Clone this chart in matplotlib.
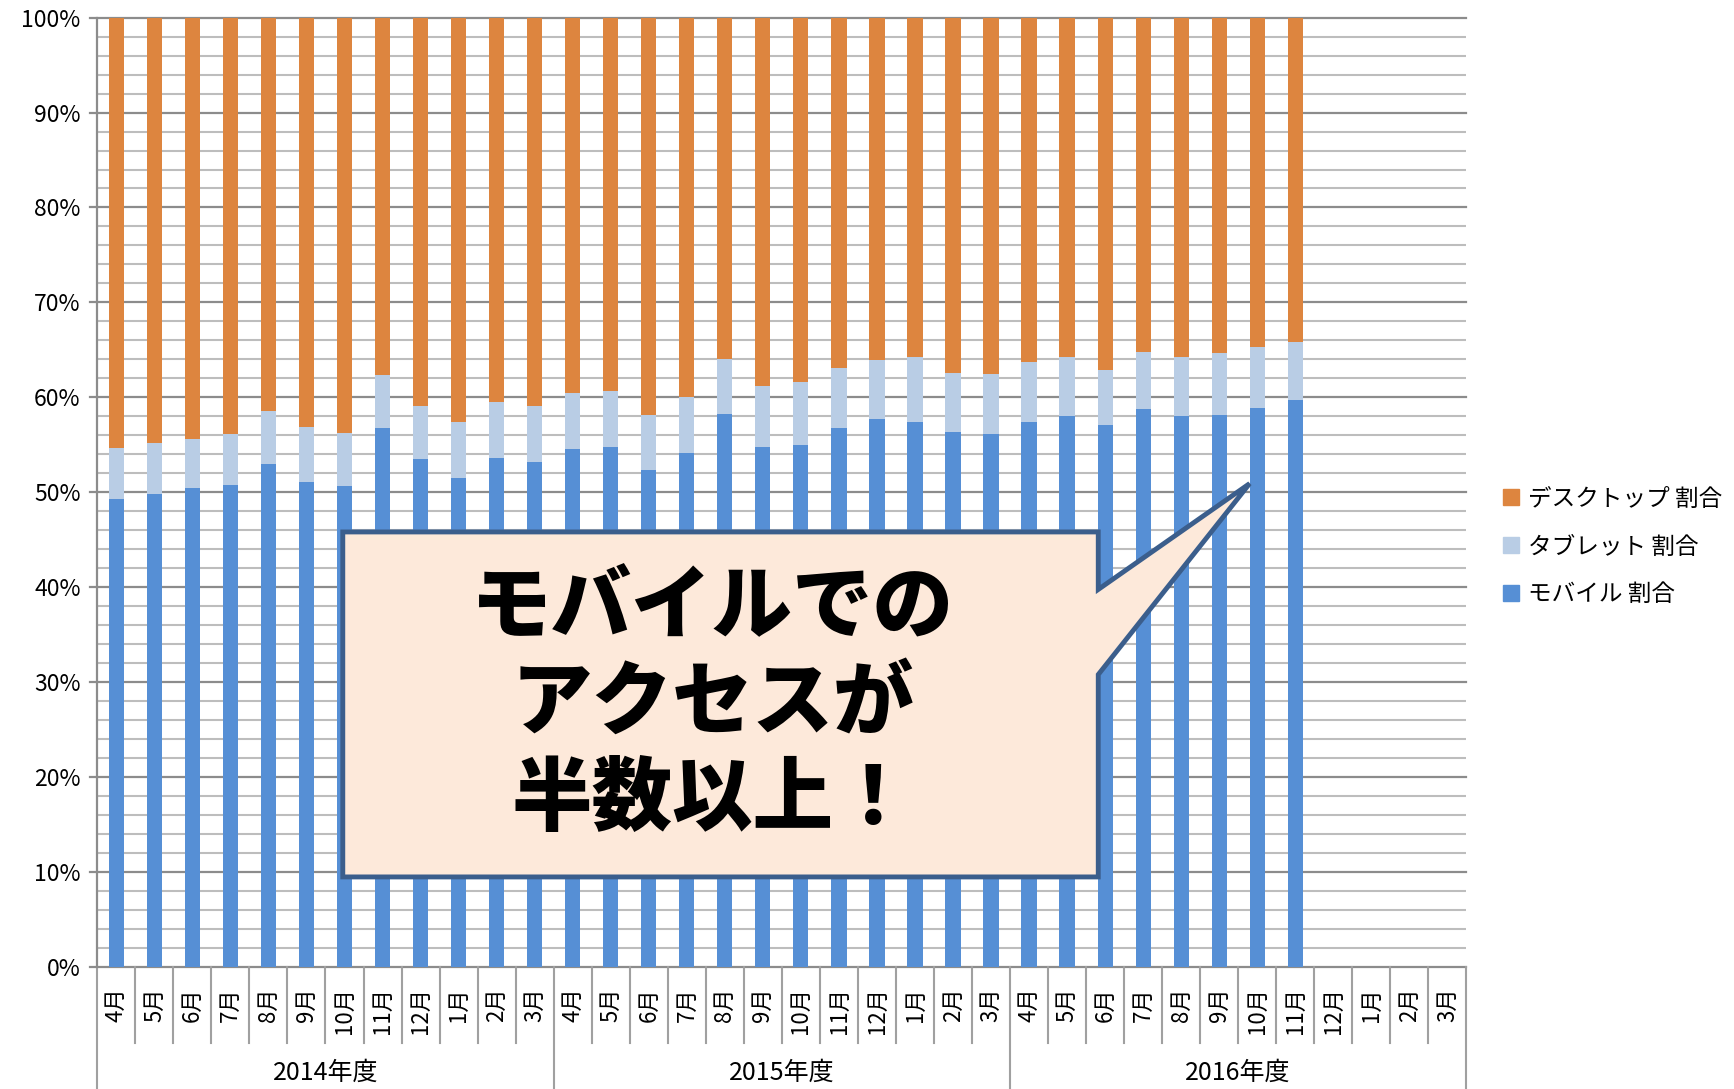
import matplotlib
matplotlib.use("Agg")
import matplotlib.pyplot as plt
from matplotlib.patches import Polygon
from matplotlib.lines import Line2D
import numpy as np

plt.rcParams['font.family'] = ['Noto Sans CJK JP', 'DejaVu Sans']

months = ["4月", "5月", "6月", "7月", "8月", "9月", "10月", "11月", "12月", "1月", "2月", "3月"] * 3
years = ["2014年度", "2015年度", "2016年度"]
series_names = ["モバイル 割合", "タブレット 割合", "デスクトップ 割合"]

mobile = [49.3, 49.8, 50.4, 50.7, 53.0, 51.1, 50.6, 56.8, 53.5, 51.5, 53.6, 53.2,
          54.5, 54.8, 52.3, 54.1, 58.2, 54.8, 55.0, 56.8, 57.7, 57.4, 56.3, 56.1,
          57.4, 58.0, 57.1, 58.8, 58.0, 58.1, 58.9, 59.7]
tablet = [5.3, 5.4, 5.2, 5.4, 5.5, 5.8, 5.6, 5.5, 5.6, 5.9, 5.9, 5.9,
          5.9, 5.9, 5.8, 5.9, 5.8, 6.4, 6.6, 6.3, 6.2, 6.8, 6.3, 6.3,
          6.3, 6.2, 5.8, 6.0, 6.2, 6.6, 6.4, 6.1]
desktop = [45.4, 44.8, 44.4, 43.9, 41.5, 43.1, 43.8, 37.7, 40.9, 42.6, 40.5, 40.9,
           39.6, 39.3, 41.9, 40.0, 36.0, 38.8, 38.4, 36.9, 36.1, 35.8, 37.4, 37.6,
           36.3, 35.8, 37.1, 35.2, 35.8, 35.3, 34.7, 34.2]

c_mobile = "#568FD5"
c_tablet = "#B9CDE5"
c_desktop = "#DD853F"

W, H = 1734, 1089
fig = plt.figure(figsize=(W / 100, H / 100), dpi=100)
ax = fig.add_axes([97.3 / W, (H - 966.5) / H, (1466.4 - 97.3) / W, (966.5 - 17.7) / H])

n_cat = len(months)
x = np.arange(len(mobile))
m = np.array(mobile)
t = np.array(tablet)
d = np.array(desktop)
bw = 0.4
ax.bar(x, m, bw, color=c_mobile, zorder=3, label=series_names[0])
ax.bar(x, t, bw, bottom=m, color=c_tablet, zorder=3, label=series_names[1])
ax.bar(x, d, bw, bottom=m + t, color=c_desktop, zorder=3, label=series_names[2])

ax.set_xlim(-0.5, n_cat - 0.5)
ax.set_ylim(0, 100)

# gridlines
for v in range(0, 101, 2):
    if v % 10 == 0:
        ax.plot([-0.5 - 0.2, n_cat - 0.5], [v, v], color="#8C8C8C", lw=1.6, zorder=1, clip_on=False)
    else:
        ax.plot([-0.5, n_cat - 0.5], [v, v], color="#BDBDBD", lw=1.5, zorder=1)

ax.set_yticks(range(0, 101, 10))
ax.set_yticklabels([f"{v}%" for v in range(0, 101, 10)], fontsize=16.5)
ax.tick_params(axis='y', length=0, pad=12)
ax.set_xticks([])
for s in ["top", "right", "bottom"]:
    ax.spines[s].set_visible(False)
ax.spines["left"].set_color("#8C8C8C")
ax.spines["left"].set_linewidth(1.6)

# category axis (hierarchical)
trans = ax.get_xaxis_transform()
ah = 966.5 - 17.7
def ay(px):
    return -px / ah

for i, lab in enumerate(months):
    ax.text(i, ay(21), lab, rotation=90, ha="center", va="top", fontsize=16,
            transform=trans, clip_on=False)
for b in range(n_cat + 1):
    xb = b - 0.5
    if b % 12 == 0:
        ax.plot([xb, xb], [0, ay(123)], color="#A0A0A0", lw=1.5, transform=trans, clip_on=False)
    else:
        ax.plot([xb, xb], [0, ay(76)], color="#A0A0A0", lw=1.5, transform=trans, clip_on=False)
for k, yl in enumerate(years):
    ax.text(k * 12 + 5.5, ay(106), yl, ha="center", va="center", fontsize=18,
            transform=trans, clip_on=False)

# legend
handles = [Line2D([], [], marker="s", color="none", markerfacecolor=c, markeredgecolor=c, markersize=12)
           for c in [c_desktop, c_tablet, c_mobile]]
fig.legend(handles, [series_names[2], series_names[1], series_names[0]],
           loc="center left", bbox_to_anchor=(1490 / W, (H - 547) / H),
           frameon=False, fontsize=17, handlelength=0.8, handletextpad=0.3,
           labelspacing=1.05, borderpad=0)

# callout
L, R, T, B = 5.955, 25.82, 45.8, 9.44
tip = (29.8, 50.9)
poly = Polygon([(L, B), (L, T), (R, T), (R, 39.74), tip, (R, 30.77), (R, B)],
               closed=True, facecolor="#FDE9DA", edgecolor="#3B5E8C", lw=3.5, zorder=5)
ax.add_patch(poly)
ax.text((L + R) / 2 - 0.2, (T + B) / 2, "モバイルでの\nアクセスが\n半数以上！", ha="center", va="center",
        fontsize=58, fontweight="heavy", linespacing=1.22, zorder=6, color="black")

fig.savefig("out.png", dpi=100)
